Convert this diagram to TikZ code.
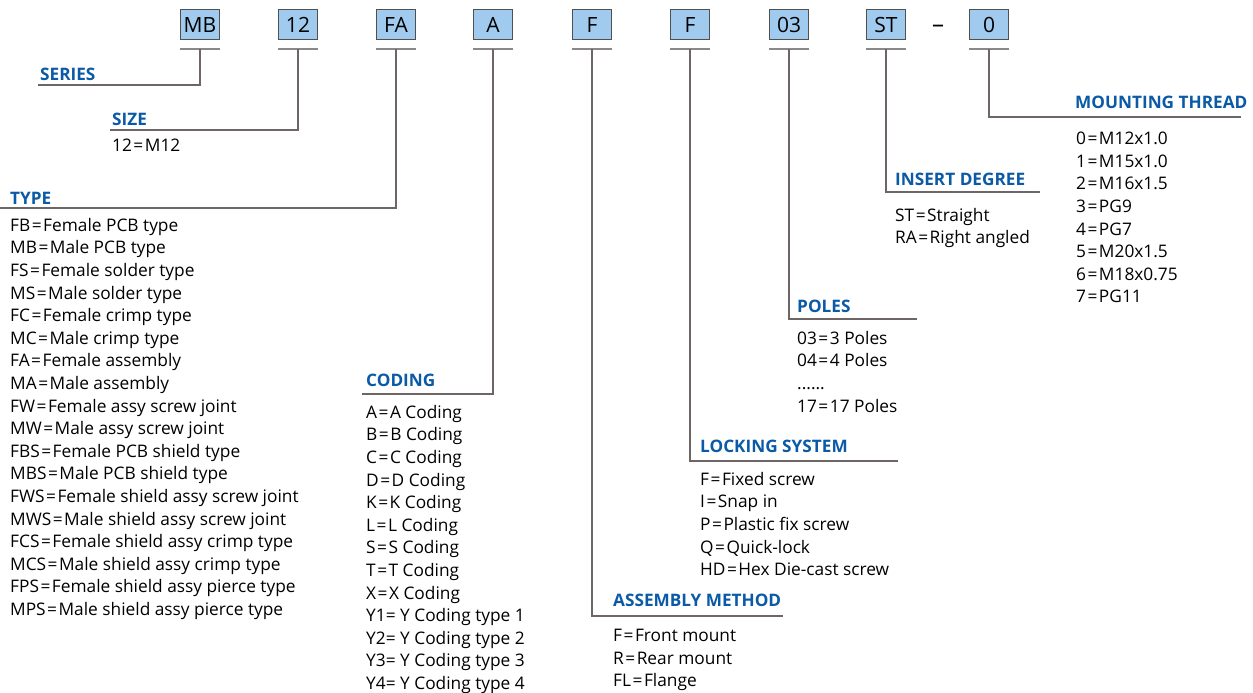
\documentclass[tikz,border=0pt]{standalone}
\usepackage{fontspec}
\setmainfont{Open Sans}
\definecolor{hblue}{HTML}{0B5AA6}
\definecolor{bfill}{HTML}{A0CBEE}
\definecolor{bline}{HTML}{505050}
\definecolor{cline}{HTML}{6E6666}
\definecolor{uline}{HTML}{8C8888}
\newcommand{\eq}{\hspace{1.5pt}=\hspace{1.5pt}}
\begin{document}
\begin{tikzpicture}[x=1pt,y=-1pt,
  codebox/.style={draw=bline,fill=bfill,line width=1pt,minimum width=39pt,minimum height=30pt,inner sep=0pt,font=\fontsize{21}{21}\selectfont},
  ul/.style={draw=uline,line width=2pt},
  conn/.style={draw=cline,line width=1.3pt},
  head/.style={anchor=west,inner sep=0pt,text=hblue,font=\fontsize{17.2}{17.2}\selectfont\bfseries},
  items/.style={anchor=north west,inner sep=0pt,align=left,font=\fontsize{17.3}{22.6}\selectfont}]
\useasboundingbox (0,0) rectangle (1253,693);
% code boxes
\node[codebox] (mb) at (200,25) {MB};
\node[codebox] (sz) at (298,25) {12};
\node[codebox] (fa) at (396,25) {FA};
\node[codebox] (cd) at (493,25) {A};
\node[codebox] (am) at (592,25) {F};
\node[codebox] (ls) at (690,25) {F};
\node[codebox] (pl) at (789,25) {03};
\node[codebox] (st) at (886,25) {ST};
\node[codebox] (mt) at (989,25) {0};
\node[inner sep=0pt] (dash) at (938,29) {\fontsize{24}{24}\selectfont –};
% underlines
\foreach \n in {mb,sz,fa,cd,am,ls,pl,st,mt}{
  \draw[ul] ([yshift=-9pt]\n.south west) -- ([yshift=-9pt]\n.south east);
}
% line ends
\coordinate (eSer) at (38,85);
\coordinate (eSiz) at (110,130);
\coordinate (eTyp) at (0,208);
\coordinate (eCod) at (362,394);
\coordinate (eAsm) at (783,616);
\coordinate (eLck) at (898,461);
\coordinate (ePol) at (917,319);
\coordinate (eIns) at (1040,192);
\coordinate (eMnt) at (1241,117);
% connectors
\draw[conn] ([yshift=-9pt]mb.south) |- (eSer);
\draw[conn] ([yshift=-9pt]sz.south) |- (eSiz);
\draw[conn] ([yshift=-9pt]fa.south) |- (eTyp);
\draw[conn] ([yshift=-9pt]cd.south) |- (eCod);
\draw[conn] ([yshift=-9pt]am.south) |- (eAsm);
\draw[conn] ([yshift=-9pt]ls.south) |- (eLck);
\draw[conn] ([yshift=-9pt]pl.south) |- (ePol);
\draw[conn] ([yshift=-9pt]st.south) |- (eIns);
\draw[conn] ([yshift=-9pt]mt.south) |- (eMnt);
% headings
\node[head] (hSer) at (40,74) {SERIES};
\node[head] (hSiz) at (112,119) {SIZE};
\node[head] (hTyp) at (10,198) {TYPE};
\node[head] (hCod) at (366,380) {CODING};
\node[head] (hAsm) at (613,600) {ASSEMBLY METHOD};
\node[head] (hLck) at (700,446) {LOCKING SYSTEM};
\node[head] (hPol) at (797,306) {POLES};
\node[head] (hIns) at (895,179) {INSERT DEGREE};
\node[head] (hMnt) at (1075,102) {MOUNTING THREAD};
% items
\node[items] (iSiz) at (112,139) {12\eq M12};
\node[items] (iTyp) at (10,218) {FB\eq Female PCB type\\MB\eq Male PCB type\\FS\eq Female solder type\\MS\eq Male solder type\\FC\eq Female crimp type\\MC\eq Male crimp type\\FA\eq Female assembly\\MA\eq Male assembly\\FW\eq Female assy screw joint\\MW\eq Male assy screw joint\\FBS\eq Female PCB shield type\\MBS\eq Male PCB shield type\\FWS\eq Female shield assy screw joint\\MWS\eq Male shield assy screw joint\\FCS\eq Female shield assy crimp type\\MCS\eq Male shield assy crimp type\\FPS\eq Female shield assy pierce type\\MPS\eq Male shield assy pierce type};
\node[items] (iCod) at (366,405) {A\eq A Coding\\B\eq B Coding\\C\eq C Coding\\D\eq D Coding\\K\eq K Coding\\L\eq L Coding\\S\eq S Coding\\T\eq T Coding\\X\eq X Coding\\Y1= Y Coding type 1\\Y2= Y Coding type 2\\Y3= Y Coding type 3\\Y4= Y Coding type 4};
\node[items] (iAsm) at (613,629) {F\eq Front mount\\R\eq Rear mount\\FL\eq Flange};
\node[items] (iLck) at (700,472) {F\eq Fixed screw\\I\eq Snap in\\P\eq Plastic fix screw\\Q\eq Quick-lock\\HD\eq Hex Die-cast screw};
\node[items] (iPol) at (797,331) {03\eq 3 Poles\\04\eq 4 Poles\\......\\17\eq 17 Poles};
\node[items] (iIns) at (895,208) {ST\eq Straight\\RA\eq Right angled};
\node[items] (iMnt) at (1076,132) {0\eq M12x1.0\\1\eq M15x1.0\\2\eq M16x1.5\\3\eq PG9\\4\eq PG7\\5\eq M20x1.5\\6\eq M18x0.75\\7\eq PG11};
\end{tikzpicture}
\end{document}
